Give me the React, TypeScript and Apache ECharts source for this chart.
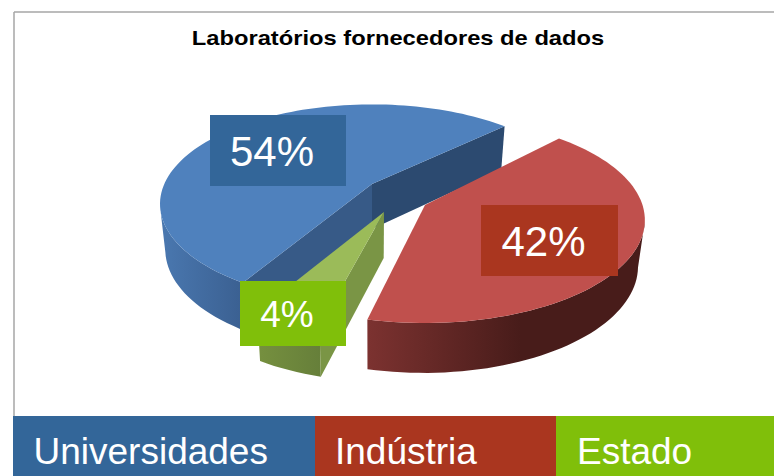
import React, { useEffect, useRef } from "react";
import * as echarts from "echarts";

const categories = ["Universidades", "Indústria", "Estado"];
const shares = [54, 42, 4];
const titleText = "Laboratórios fornecedores de dados";

// Placement of the exploded slices on the page (not data)
const RX = 212, RY = 99.5;
const placement = [
  { apex: [372, 184], start: 121, spanK: 1.006, rx: RX, ry: RY, a: -0.2, top: "#4F81BD", boxFill: "#336699", box: [210, 115, 136, 71], font: 42,
    side: ["#4A78B0", "#3A5F90"], cutA: "#375A87", cutB: "#2C4A70" },
  { apex: [425, 205], start: 313, spanK: 0.993, rx: RX * 1.037, ry: 103, a: -0.146, top: "#C0504D", boxFill: "#AA361F", box: [481, 205, 137, 71], font: 42,
    side: ["#7C3230", "#481C1A"], cutA: "", cutB: "" },
  { apex: [384, 212], start: 104.5, spanK: 1.1, rx: RX, ry: RY, a: -0.2, top: "#9BBB59", boxFill: "#80BF0A", box: [240, 281, 106, 65], font: 37,
    side: ["#76903F", "#667F3A"], cutA: "#7A9545", cutB: "" },
];
const bands = [
  { x: 13, w: 302, fill: "#336699", textX: 33.5 },
  { x: 315, w: 241, fill: "#AA361F", textX: 335 },
  { x: 556, w: 218, fill: "#80BF0A", textX: 577 },
];

function rim(p: any, deg: number) {
  const t = (deg * Math.PI) / 180;
  const u = Math.cos(t), v = Math.sin(t);
  const vv = (v + p.a) / (1 + p.a * v);
  const uu = (u * Math.sqrt(1 - p.a * p.a)) / (1 + p.a * v);
  return [p.apex[0] + p.rx * uu, p.apex[1] + p.ry * (vv - p.a)];
}
function drop(pt: number[]) {
  const depth = 43 + (pt[1] - 127) * 0.035;
  return [pt[0] + (372 - pt[0]) * 0.025, pt[1] + depth];
}

export default function App() {
  const ref = useRef<HTMLDivElement>(null);
  useEffect(() => {
    const chart = echarts.init(ref.current!, undefined, { renderer: "svg" });
    const total = shares.reduce((a, b) => a + b, 0);
    const renderItem = (_: any, api: any) => {
      const i = api.value(0);
      const val = api.value(1);
      const p = placement[i];
      const span = (val / total) * 360 * p.spanK;
      const n = Math.max(6, Math.round(span / 2));
      const arc: number[][] = [];
      for (let k = 0; k <= n; k++) arc.push(rim(p, p.start + (span * k) / n));
      const children: any[] = [];
      const apex = p.apex;
      const apexB = drop(apex);
      // outer wall: only the part between the two silhouette angles
      const edge = (Math.asin(-p.a) * 180) / Math.PI;
      const vis: number[][] = [];
      arc.forEach((a, k) => {
        const deg = ((p.start + (span * k) / n) % 360 + 360) % 360;
        if (deg >= edge && deg <= 180 - edge) vis.push(a);
      });
      if (vis.length > 1) {
        const pts = [...vis, ...vis.slice().reverse().map(drop)];
        const leftFirst = i === 1;
        children.push({
          type: "polygon",
          shape: { points: pts },
          style: {
            fill: new echarts.graphic.LinearGradient(0, 0, 1, 0, [
              { offset: 0, color: p.side[0] },
              { offset: leftFirst ? 0.55 : 1, color: p.side[1] },
              { offset: 1, color: p.side[1] },
            ]),
          },
        });
      }
      const wall = (a: number[], color: string) => ({
        type: "polygon",
        shape: { points: [apex, a, drop(a), apexB] },
        style: { fill: color },
      });
      if (p.cutB) children.push(wall(arc[n], p.cutB));
      if (p.cutA) children.push(wall(arc[0], p.cutA));
      children.push({
        type: "polygon",
        shape: { points: [apex, ...arc] },
        style: { fill: p.top },
      });
      children.push({
        type: "rect",
        shape: { x: p.box[0], y: p.box[1], width: p.box[2], height: p.box[3] },
        style: { fill: p.boxFill },
      });
      children.push({
        type: "text",
        x: p.box[0] + p.box[2] / 2 - 6,
        y: p.box[1] + p.box[3] / 2 + 1,
        style: {
          text: val + "%",
          fill: "#fff",
          font: `${p.font}px "Liberation Sans"`,
          align: "center",
          verticalAlign: "middle",
        },
      });
      return { type: "group", children };
    };
    chart.setOption({
      animation: false,
      backgroundColor: "#fff",
      series: [
        {
          type: "custom",
          coordinateSystem: "none",
          renderItem,
          data: shares.map((v, i) => [i, v]),
          silent: true,
        },
      ],
      graphic: [
        { type: "line", z: 10, shape: { x1: 14, y1: 12, x2: 774, y2: 12 }, style: { stroke: "#A6A6A6", lineWidth: 1.5 } },
        { type: "line", z: 10, shape: { x1: 14, y1: 12, x2: 14, y2: 416 }, style: { stroke: "#A6A6A6", lineWidth: 1.5 } },
        {
          type: "text",
          z: 10,
          x: 398,
          y: 38,
          scaleX: 1.13,
          style: {
            text: titleText,
            fill: "#000",
            font: 'bold 21px "Liberation Sans"',
            align: "center",
            verticalAlign: "middle",
          },
        },
        ...categories.flatMap((c, i) => [
          { type: "rect", z: 10, shape: { x: bands[i].x, y: 416, width: bands[i].w, height: 60 }, style: { fill: bands[i].fill } },
          {
            type: "text",
            z: 11,
            x: bands[i].textX,
            y: 451,
            style: { text: c, fill: "#fff", font: '37px "Liberation Sans"', align: "left", verticalAlign: "middle" },
          },
        ]),
      ],
    });
    return () => chart.dispose();
  }, []);
  return <div ref={ref} style={{ position: "fixed", left: 0, top: 0, width: 774, height: 476 }} />;
}
